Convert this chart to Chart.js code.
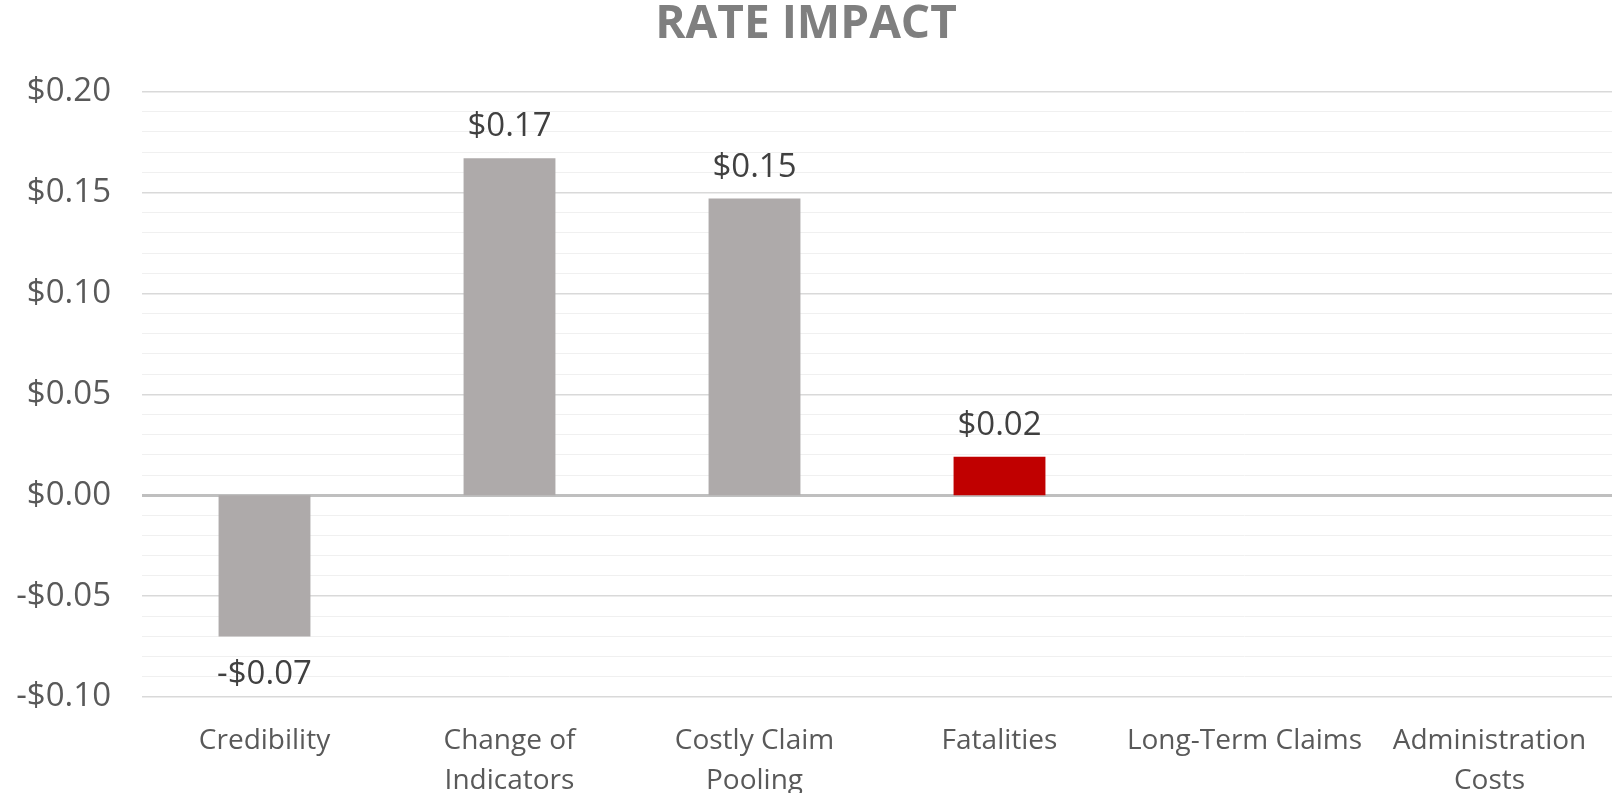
<!DOCTYPE html>
<html>
<head>
<meta charset="utf-8">
<script src="https://cdn.jsdelivr.net/npm/chart.js@4.4.1/dist/chart.umd.min.js"></script>
<style>
  body { margin: 0; background: #fff; }
  #wrap { width: 1614px; height: 793px; }
</style>
</head>
<body>
<div id="wrap"><canvas id="rateChart"></canvas></div>
<script>
const categories = ['Credibility', 'Change of Indicators', 'Costly Claim Pooling', 'Fatalities', 'Long-Term Claims', 'Administration Costs'];
const rateImpact = [-0.070, 0.167, 0.147, 0.019, 0, 0];
const highlighted = 'Fatalities';
const yMin = -0.10;
const yMax = 0.20;

const FONT = '"Open Sans", "Noto Sans", sans-serif';

function money(v) {
    const s = '$' + Math.abs(v).toFixed(2);
    return v < -0.0001 ? '-' + s : s;
}

// Split long category names into two lines like Excel does
function wrapLabel(text) {
    if (text.length <= 16) return text;
    const cut = text.lastIndexOf(' ');
    return [text.slice(0, cut), text.slice(cut + 1)];
}

// draws the value above / below each bar
const valueLabels = {
    id: 'valueLabels',
    afterDatasetsDraw(chart) {
        const ctx = chart.ctx;
        const meta = chart.getDatasetMeta(0);
        ctx.save();
        ctx.font = '33px ' + FONT;
        ctx.fillStyle = '#404040';
        ctx.textAlign = 'center';
        ctx.textBaseline = 'alphabetic';
        meta.data.forEach((bar, i) => {
            const v = rateImpact[i];
            if (Math.abs(v) < 0.0001) return;
            const y = v > 0 ? bar.y - 22 : bar.y + 48;
            ctx.fillText(money(Math.round(v * 100) / 100), bar.x, y);
        });
        ctx.restore();
    }
};

const ctx = document.getElementById('rateChart').getContext('2d');
new Chart(ctx, {
    type: 'bar',
    data: {
        labels: categories,
        datasets: [{
            data: rateImpact,
            backgroundColor: (c) => categories[c.dataIndex] === highlighted ? '#C00000' : '#AEAAAA',
            borderWidth: 0,
            barPercentage: 0.375,
            categoryPercentage: 1.0
        }]
    },
    options: {
        responsive: true,
        maintainAspectRatio: false,
        animation: false,
        layout: { padding: { top: 0, right: 2, bottom: 0, left: 0 } },
        plugins: {
            legend: { display: false },
            tooltip: { enabled: false },
            title: {
                display: true,
                text: 'RATE IMPACT',
                color: '#7F7F7F',
                font: { family: FONT, size: 46, weight: 'bold', lineHeight: 1.1 },
                padding: { top: 0, bottom: 41 }
            }
        },
        scales: {
            x: {
                grid: { display: false },
                border: { display: false },
                ticks: {
                    color: '#595959',
                    font: { family: FONT, size: 28, lineHeight: 1.42 },
                    padding: 16,
                    maxRotation: 0,
                    autoSkip: false,
                    callback: function (value) {
                        return wrapLabel(this.getLabelForValue(value));
                    }
                },
                afterFit: (scale) => { scale.height = 96; }
            },
            y: {
                min: yMin,
                max: yMax,
                border: { display: false },
                grid: {
                    drawTicks: false,
                    color: (c) => {
                        const n = Math.round(c.tick.value * 100);
                        if (n === 0) return '#BFBFBF';
                        return n % 5 === 0 ? '#D9D9D9' : '#F0F0F0';
                    },
                    lineWidth: (c) => {
                        const n = Math.round(c.tick.value * 100);
                        if (n === 0) return 3;
                        return n % 5 === 0 ? 1.5 : 1;
                    }
                },
                ticks: {
                    stepSize: 0.01,
                    maxTicksLimit: 50,
                    autoSkip: false,
                    color: '#595959',
                    font: { family: FONT, size: 33 },
                    padding: 31,
                    callback: (value) => {
                        const n = Math.round(value * 100);
                        return n % 5 === 0 ? money(n / 100) : '';
                    }
                },
                afterFit: (scale) => { scale.width = 142; }
            }
        }
    },
    plugins: [valueLabels]
});
</script>
</body>
</html>
